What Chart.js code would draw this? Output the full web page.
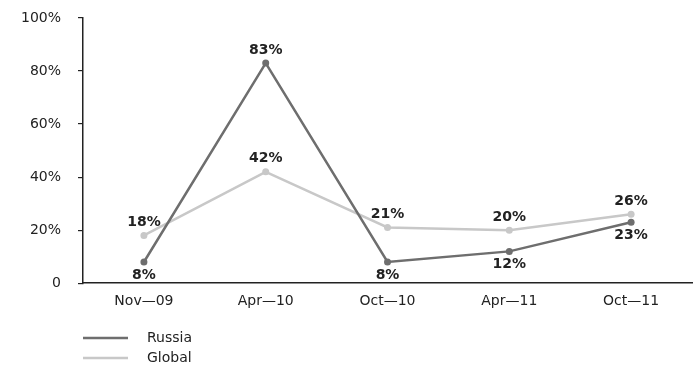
<!DOCTYPE html>
<html>
<head>
<meta charset="utf-8">
<script src="https://cdn.jsdelivr.net/npm/chart.js@4/dist/chart.umd.min.js"></script>
<style>
  html, body { margin: 0; padding: 0; background: #fff; }
  #wrap { width: 699px; height: 365px; position: relative; }
</style>
</head>
<body>
<div id="wrap"><canvas id="chart"></canvas></div>
<script>
// Survey waves
const categories = ['Nov\u201409', 'Apr\u201410', 'Oct\u201410', 'Apr\u201411', 'Oct\u201411'];
// Share of respondents, percent
const russiaValues = [8, 83, 8, 12, 23];
const globalValues = [18, 42, 21, 20, 26];
const yTicks = [0, 20, 40, 60, 80, 100];

const FONT = '"DejaVu Sans", sans-serif';
const TEXT = '#222222';
const RUSSIA_COLOR = '#6e6e6e';
const GLOBAL_COLOR = '#c8c8c8';

// Value labels: Russia below its points (except the peak), Global above
const valueLabels = {
  id: 'valueLabels',
  afterDatasetsDraw(chart) {
    const ctx = chart.ctx;
    ctx.save();
    ctx.font = 'bold 14px ' + FONT;
    ctx.fillStyle = TEXT;
    ctx.textAlign = 'center';
    ctx.textBaseline = 'middle';
    chart.data.datasets.forEach((ds, di) => {
      const meta = chart.getDatasetMeta(di);
      meta.data.forEach((pt, i) => {
        const v = ds.data[i];
        let above = ds.labelAbove;
        if (ds.label === 'Russia' && v === Math.max(...ds.data)) above = true;
        const dy = above ? -13 : 13;
        ctx.fillText(v + '%', pt.x, pt.y + dy);
      });
    });
    ctx.restore();
  }
};

// Stacked legend at the lower left
const stackedLegend = {
  id: 'stackedLegend',
  afterDraw(chart) {
    const ctx = chart.ctx;
    ctx.save();
    ctx.font = '14px ' + FONT;
    ctx.textBaseline = 'middle';
    ctx.textAlign = 'left';
    chart.data.datasets.forEach((ds, i) => {
      const y = chart.height - 27 + i * 20;
      ctx.strokeStyle = ds.borderColor;
      ctx.lineWidth = 2.5;
      ctx.beginPath();
      ctx.moveTo(83, y);
      ctx.lineTo(128, y);
      ctx.stroke();
      ctx.fillStyle = TEXT;
      ctx.fillText(ds.label, 147, y);
    });
    ctx.restore();
  }
};

new Chart(document.getElementById('chart'), {
  type: 'line',
  data: {
    labels: categories,
    datasets: [
      {
        label: 'Russia',
        data: russiaValues,
        borderColor: RUSSIA_COLOR,
        backgroundColor: RUSSIA_COLOR,
        borderWidth: 2.5,
        pointRadius: 3.5,
        pointBorderWidth: 0,
        tension: 0,
        labelAbove: false
      },
      {
        label: 'Global',
        data: globalValues,
        borderColor: GLOBAL_COLOR,
        backgroundColor: GLOBAL_COLOR,
        borderWidth: 2.5,
        pointRadius: 3.5,
        pointBorderWidth: 0,
        tension: 0,
        labelAbove: true
      }
    ]
  },
  options: {
    responsive: true,
    maintainAspectRatio: false,
    animation: false,
    layout: { padding: { top: 18, right: 7, bottom: 45, left: 4 } },
    plugins: {
      legend: { display: false },
      tooltip: { enabled: false }
    },
    scales: {
      x: {
        offset: true,
        grid: { display: false, drawTicks: false },
        border: { display: true, color: '#222', width: 1.5 },
        ticks: { color: TEXT, font: { family: FONT, size: 14 }, padding: 10, maxRotation: 0 }
      },
      y: {
        min: 0,
        max: 100,
        afterBuildTicks(axis) { axis.ticks = yTicks.map(v => ({ value: v })); },
        // the label gap should not push the plot area down
        afterFit(axis) { axis.paddingTop = 0; axis.paddingBottom = 0; },
        grid: { drawOnChartArea: false, drawTicks: true, tickLength: 5, color: '#222', lineWidth: 1.2 },
        border: { display: true, color: '#222', width: 1.5 },
        ticks: {
          color: TEXT,
          font: { family: FONT, size: 14 },
          padding: 17,
          callback: v => (v === 0 ? '0' : v + '%')
        }
      }
    }
  },
  plugins: [valueLabels, stackedLegend]
});
</script>
</body>
</html>
